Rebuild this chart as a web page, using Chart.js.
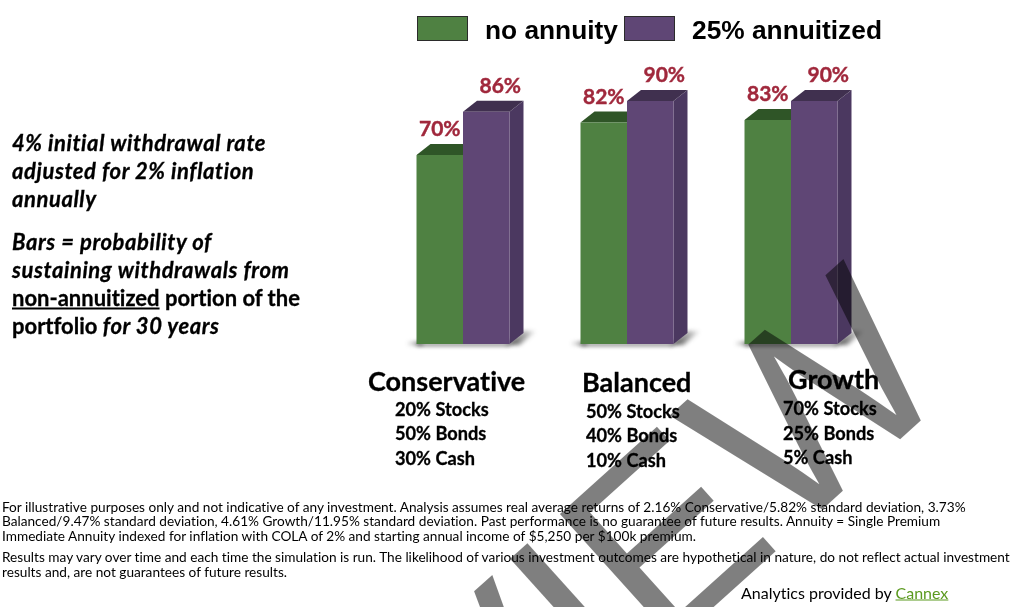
<!DOCTYPE html>
<html>
<head>
  <meta charset="UTF-8">
  <title>Probability of sustaining withdrawals</title>
  <script src="https://cdn.jsdelivr.net/npm/chart.js"></script>
  <style>
    html, body { margin: 0; padding: 0; background: #fff; }
    #page { position: relative; width: 1016px; height: 607px; overflow: hidden; font-family: Lato, sans-serif; color: #000; font-variant-ligatures: none; }
    #plot { position: absolute; left: 0; top: 0; }
    .t { position: absolute; white-space: nowrap; transform: translateY(-50%); }
    .note { font-size: 22px; font-weight: 700; -webkit-text-stroke: 0.3px #000; }
    .note i { letter-spacing: 0.58px; }
    .cat { font-size: 27px; font-weight: 700; -webkit-text-stroke: 0.3px #000; }
    .mix { font-size: 18.2px; font-weight: 700; -webkit-text-stroke: 0.3px #000; }
    .foot { font-size: 13.65px; }
    .leg { font-family: "Liberation Sans", sans-serif; font-size: 26.3px; font-weight: 700; }
    .swatch { position: absolute; width: 49px; height: 23px; border: 1px solid #2b2b2b; }
    #mark { position: absolute; left: 0; top: 0; pointer-events: none; }
    #mark text { font: 250px "Liberation Sans", sans-serif; fill: rgba(0,0,0,0.5); }
  </style>
</head>
<body>
  <div id="page">
    <canvas id="plot" width="1016" height="607"></canvas>
    <svg id="mark" width="1016" height="607"><text transform="translate(959,386) rotate(-42)" text-anchor="end">PREVIEW</text></svg>
  </div>

  <script>
    const categories = ['Conservative', 'Balanced', 'Growth'];
    const noAnnuity = [70, 82, 83];
    const annuitized = [86, 90, 90];
    const seriesNames = ['no annuity', '25% annuitized'];
    const allocations = [
      ['20% Stocks', '50% Bonds', '30% Cash'],
      ['50% Stocks', '40% Bonds', '10% Cash'],
      ['70% Stocks', '25% Bonds', '5% Cash']
    ];
    const noteLines = [
      '<i>4% initial withdrawal rate</i>',
      '<i>adjusted for 2% inflation</i>',
      '<i>annually</i>',
      '<i>Bars = probability of</i>',
      '<i>sustaining withdrawals from</i>',
      '<u>non-annuitized</u> portion of the',
      'portfolio <i>for 30 years</i>'
    ];
    const footLines = [
      'For illustrative purposes only and not indicative of any investment. Analysis assumes real average returns of 2.16% Conservative/5.82% standard deviation, 3.73%',
      'Balanced/9.47% standard deviation, 4.61% Growth/11.95% standard deviation. Past performance is no guarantee of future results. Annuity = Single Premium',
      'Immediate Annuity indexed for inflation with COLA of 2% and starting annual income of $5,250 per $100k premium.',
      'Results may vary over time and each time the simulation is run. The likelihood of various investment outcomes are hypothetical in nature, do not reflect actual investment',
      'results and, are not guarantees of future results.'
    ];

    const green = { front: '#4f8142', top: '#2f5527', side: '#3c6632' };
    const purple = { front: '#5f4675', top: '#40304f', side: '#4b3860' };
    const depthX = 14, depthY = 11;

    function addText(html, cls, x, y) {
      const el = document.createElement('div');
      el.className = 't ' + cls;
      el.style.left = x + 'px';
      el.style.top = y + 'px';
      el.innerHTML = html;
      document.getElementById('page').insertBefore(el, document.getElementById('mark'));
      return el;
    }

    // side text, group captions and footnotes
    [142, 170, 198, 241, 269, 297, 325].forEach((y, i) => addText(noteLines[i], 'note', 12, y));
    const catPos = [[368, 380], [582, 381], [788, 378]];
    const mixPos = [[395, [409, 433, 458]], [586, [411, 435, 460]], [783, [408, 433, 457]]];
    categories.forEach((c, i) => {
      addText(c, 'cat', catPos[i][0], catPos[i][1]);
      allocations[i].forEach((m, j) => addText(m, 'mix', mixPos[i][0], mixPos[i][1][j]));
    });
    [507, 521, 536, 557, 572].forEach((y, i) => addText(footLines[i], 'foot', 2, y));
    addText('Analytics provided by <u style="color:#5b9a1f">Cannex</u>', 'foot', 741, 592).style.fontSize = '16px';

    // legend
    [[417, green], [624, purple]].forEach((s, i) => {
      const box = document.createElement('div');
      box.className = 'swatch';
      box.style.left = s[0] + 'px';
      box.style.top = '16px';
      box.style.background = s[1].front;
      document.getElementById('page').insertBefore(box, document.getElementById('mark'));
      addText(seriesNames[i], 'leg', s[0] + 68, 30);
    });

    // extruded side, lid and floor shadow behind each flat bar
    const depthBars = {
      id: 'depthBars',
      beforeDatasetsDraw(chart) {
        const ctx = chart.ctx;
        const a = chart.getDatasetMeta(0).data, b = chart.getDatasetMeta(1).data;
        a.forEach((bar, i) => {
          const left = bar.x - bar.width / 2, right = b[i].x + b[i].width / 2, base = bar.base;
          ctx.save();
          ctx.filter = 'blur(2px)';
          const g = ctx.createLinearGradient(right, 0, right + 28, 0);
          g.addColorStop(0, 'rgba(40,40,40,0.85)');
          g.addColorStop(1, 'rgba(40,40,40,0)');
          ctx.fillStyle = g;
          ctx.beginPath();
          ctx.moveTo(right - 4, base + 1);
          ctx.lineTo(right + depthX, base - depthY - 2);
          ctx.lineTo(right + 27, base - depthY - 2);
          ctx.lineTo(right + 10, base + 1);
          ctx.fill();
          const h = ctx.createLinearGradient(left - 10, 0, left + 6, 0);
          h.addColorStop(0, 'rgba(40,40,40,0)');
          h.addColorStop(1, 'rgba(40,40,40,0.85)');
          ctx.fillStyle = h;
          ctx.fillRect(left - 10, base - 2, 16, 3);
          ctx.fillStyle = 'rgba(60,60,60,0.7)';
          ctx.fillRect(left, base - 1, right - left, 3);
          ctx.restore();
        });
      },
      beforeDatasetDraw(chart, args) {
        const ctx = chart.ctx;
        const colors = args.index === 0 ? green : purple;
        args.meta.data.forEach(bar => {
          const l = bar.x - bar.width / 2, r = bar.x + bar.width / 2, t = bar.y, base = bar.base;
          ctx.save();
          // the green block sits behind the purple one, so only its lid up to the seam shows
          if (args.index === 0) {
            ctx.beginPath();
            ctx.rect(l, 0, r - l, base);
            ctx.clip();
          }
          ctx.fillStyle = colors.side;
          ctx.beginPath();
          ctx.moveTo(r, t);
          ctx.lineTo(r + depthX, t - depthY);
          ctx.lineTo(r + depthX, base - depthY);
          ctx.lineTo(r, base);
          ctx.fill();
          ctx.fillStyle = colors.top;
          ctx.beginPath();
          ctx.moveTo(l, t);
          ctx.lineTo(l + depthX, t - depthY);
          ctx.lineTo(r + depthX, t - depthY);
          ctx.lineTo(r, t);
          ctx.fill();
          ctx.restore();
        });
      },
      afterDatasetsDraw(chart) {
        const ctx = chart.ctx;
        ctx.save();
        ctx.font = '700 21px Lato, sans-serif';
        ctx.fillStyle = '#a0283c';
        ctx.strokeStyle = '#a0283c';
        ctx.lineWidth = 0.4;
        ctx.textAlign = 'center';
        ctx.textBaseline = 'middle';
        chart.data.datasets.forEach((ds, d) => {
          chart.getDatasetMeta(d).data.forEach((bar, i) => {
            const label = ds.data[i] + '%', x = bar.x + (d === 1 ? 14 : 0), y = bar.y - 25.5;
            ctx.fillText(label, x, y);
            ctx.strokeText(label, x, y);
          });
        });
        ctx.restore();
      }
    };

    new Chart(document.getElementById('plot'), {
      type: 'bar',
      data: {
        labels: categories,
        datasets: [
          { label: seriesNames[0], data: noAnnuity, backgroundColor: green.front },
          { label: seriesNames[1], data: annuitized, backgroundColor: purple.front }
        ]
      },
      options: {
        responsive: false,
        animation: false,
        layout: { padding: { left: 381, right: 143, top: 74, bottom: 263 } },
        datasets: { bar: { barPercentage: 1, categoryPercentage: 0.567 } },
        scales: {
          x: { display: false },
          y: { display: false, min: 0, max: 100 }
        },
        plugins: { legend: { display: false }, tooltip: { enabled: false } }
      },
      plugins: [depthBars]
    });
  </script>
</body>
</html>
